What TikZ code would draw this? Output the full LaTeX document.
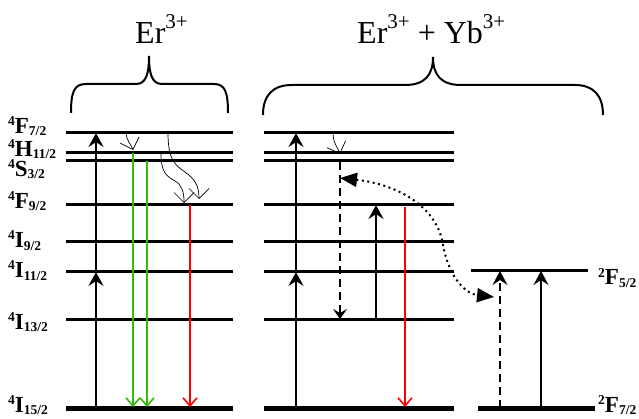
\documentclass[tikz,border=0pt]{standalone}
\usepackage{fontspec}
\setmainfont{Liberation Serif}
\usetikzlibrary{arrows.meta}
\definecolor{grn}{RGB}{50,185,10}
\definecolor{rd}{RGB}{255,0,0}
\newcommand{\lvlabel}[3]{\textbf{\raisebox{8pt}{\fontsize{13.5}{13.5}\selectfont #1}#2\raisebox{-2pt}{\fontsize{13.5}{13.5}\selectfont #3}}}
\newcommand{\ionsup}[1]{\raisebox{15pt}{\fontsize{21}{21}\selectfont #1}}
\begin{document}
\begin{tikzpicture}[x=1pt,y=-1pt,
  lvl/.style={line width=3pt},
  gnd/.style={line width=5pt},
  brace/.style={line width=2pt},
  lbl/.style={inner sep=0pt,anchor=base west,font=\fontsize{23}{23}\selectfont},
  ttl/.style={inner sep=0pt,anchor=base west,font=\fontsize{32}{32}\selectfont},
  pump/.style={line width=2pt,-{Stealth[length=14pt,width=15pt,inset=5pt]}},
  dpump/.style={pump,dash pattern=on 8pt off 5pt},
  emit/.style={line width=1.6pt,-{Straight Barb[length=8pt,width=14pt,line width=1.6pt]}},
  relax/.style={line width=0.7pt,-{Straight Barb[length=10pt,width=20pt,line width=0.7pt]}},
  decay/.style={line width=2pt,dash pattern=on 8pt off 5pt,-{Stealth[length=10pt,width=14pt,inset=4pt]}},
  etr/.style={line width=2pt,dash pattern=on 2pt off 3.5pt,{Triangle[length=17pt,width=14pt]}-{Triangle[length=17pt,width=14pt]}}
]
\useasboundingbox (0,0) rectangle (639,419);

% titles
\node[ttl] (t1) at (135,44) {Er\ionsup{3+}};
\node[ttl] (t2) at (357,44) {Er\ionsup{3+} + Yb\ionsup{3+}};

% braces
\draw[brace] (71,113) .. controls (71,92) and (74,84) .. (86,84) -- (136,84)
  .. controls (146,84) and (149,74) .. (149,56)
  .. controls (149,74) and (152,84) .. (162,84) -- (214,84)
  .. controls (225,84) and (228,92) .. (228,113);
\draw[brace] (263,115) .. controls (263,95) and (273,85) .. (292,85) -- (405,85)
  .. controls (425,85) and (433,75) .. (433,57)
  .. controls (433,75) and (441,85) .. (461,85) -- (575,85)
  .. controls (593,85) and (603,95) .. (603,115);

% levels
\foreach \y in {133,153,161,205,242,272,319}{
  \draw[lvl] (66,\y) -- (233,\y);
  \draw[lvl] (264,\y) -- (454,\y);
}
\draw[gnd] (66,408) -- (233,408);
\draw[gnd] (264,408) -- (454,408);
\draw[lvl] (471,271) -- (588,271);
\draw[gnd] (478,408) -- (595,408);

% labels
\node[lbl] (l1) at (8,134) {\lvlabel{4}{F}{7/2}};
\node[lbl] (l2) at (8,157) {\lvlabel{4}{H}{11/2}};
\node[lbl] (l3) at (8,177) {\lvlabel{4}{S}{3/2}};
\node[lbl] (l4) at (8,209) {\lvlabel{4}{F}{9/2}};
\node[lbl] (l5) at (8,248) {\lvlabel{4}{I}{9/2}};
\node[lbl] (l6) at (8,278) {\lvlabel{4}{I}{11/2}};
\node[lbl] (l7) at (8,329) {\lvlabel{4}{I}{13/2}};
\node[lbl] (l8) at (8,412) {\lvlabel{4}{I}{15/2}};
\node[lbl] (l9) at (598,285) {\lvlabel{2}{F}{5/2}};
\node[lbl] (l10) at (598,412) {\lvlabel{2}{F}{7/2}};

% coordinates, left panel
\coordinate (a0) at (96,408);
\coordinate (a1) at (96,272);
\coordinate (a2) at (96,133);
\coordinate (g1s) at (133,153);
\coordinate (g1e) at (133,407);
\coordinate (g2s) at (147,161);
\coordinate (g2e) at (147,407);
\coordinate (r1s) at (190,205);
\coordinate (r1e) at (190,407);
\coordinate (w1s) at (126,133);
\coordinate (w1e) at (133,150);
\coordinate (w2s) at (168,133);
\coordinate (w2e) at (199,199);
\coordinate (w3s) at (161,153);
\coordinate (w3e) at (184,203);

\draw[pump] (a0) -- (a1);
\draw[pump] (a1) -- (a2);
\draw[emit,grn] (g1s) -- (g1e);
\draw[emit,grn] (g2s) -- (g2e);
\draw[emit,rd] (r1s) -- (r1e);
\draw[relax] (w1s) .. controls (127,142) and (131,144) .. (w1e);
\draw[relax] (w2s) .. controls (168,160) and (175,165) .. (185,172)
  .. controls (195,179) and (199,186) .. (w2e);
\draw[relax] (w3s) .. controls (161,172) and (166,176) .. (175,181)
  .. controls (182,185) and (184,192) .. (w3e);

% coordinates, right panel
\coordinate (b0) at (296,408);
\coordinate (b1) at (296,272);
\coordinate (b2) at (296,133);
\coordinate (ws) at (333,132);
\coordinate (we) at (340,154);
\coordinate (ds) at (340,162);
\coordinate (de) at (340,319);
\coordinate (c0) at (376,318);
\coordinate (c1) at (376,205);
\coordinate (r2s) at (405,207);
\coordinate (r2e) at (405,407);
\coordinate (e1) at (340,178);
\coordinate (e2) at (494,297);
\coordinate (y0) at (500,408);
\coordinate (y1) at (500,271);
\coordinate (z0) at (541,408);
\coordinate (z1) at (541,271);

\draw[pump] (b0) -- (b1);
\draw[pump] (b1) -- (b2);
\draw[relax] (ws) .. controls (333,143) and (337,146) .. (we);
\draw[decay] (ds) -- (de);
\draw[pump] (c0) -- (c1);
\draw[emit,rd] (r2s) -- (r2e);
\draw[etr] (e1) .. controls (395,184) and (437,205) .. (443,245)
  .. controls (449,278) and (466,294) .. (e2);
\draw[dpump] (y0) -- (y1);
\draw[pump] (z0) -- (z1);
\end{tikzpicture}
\end{document}
